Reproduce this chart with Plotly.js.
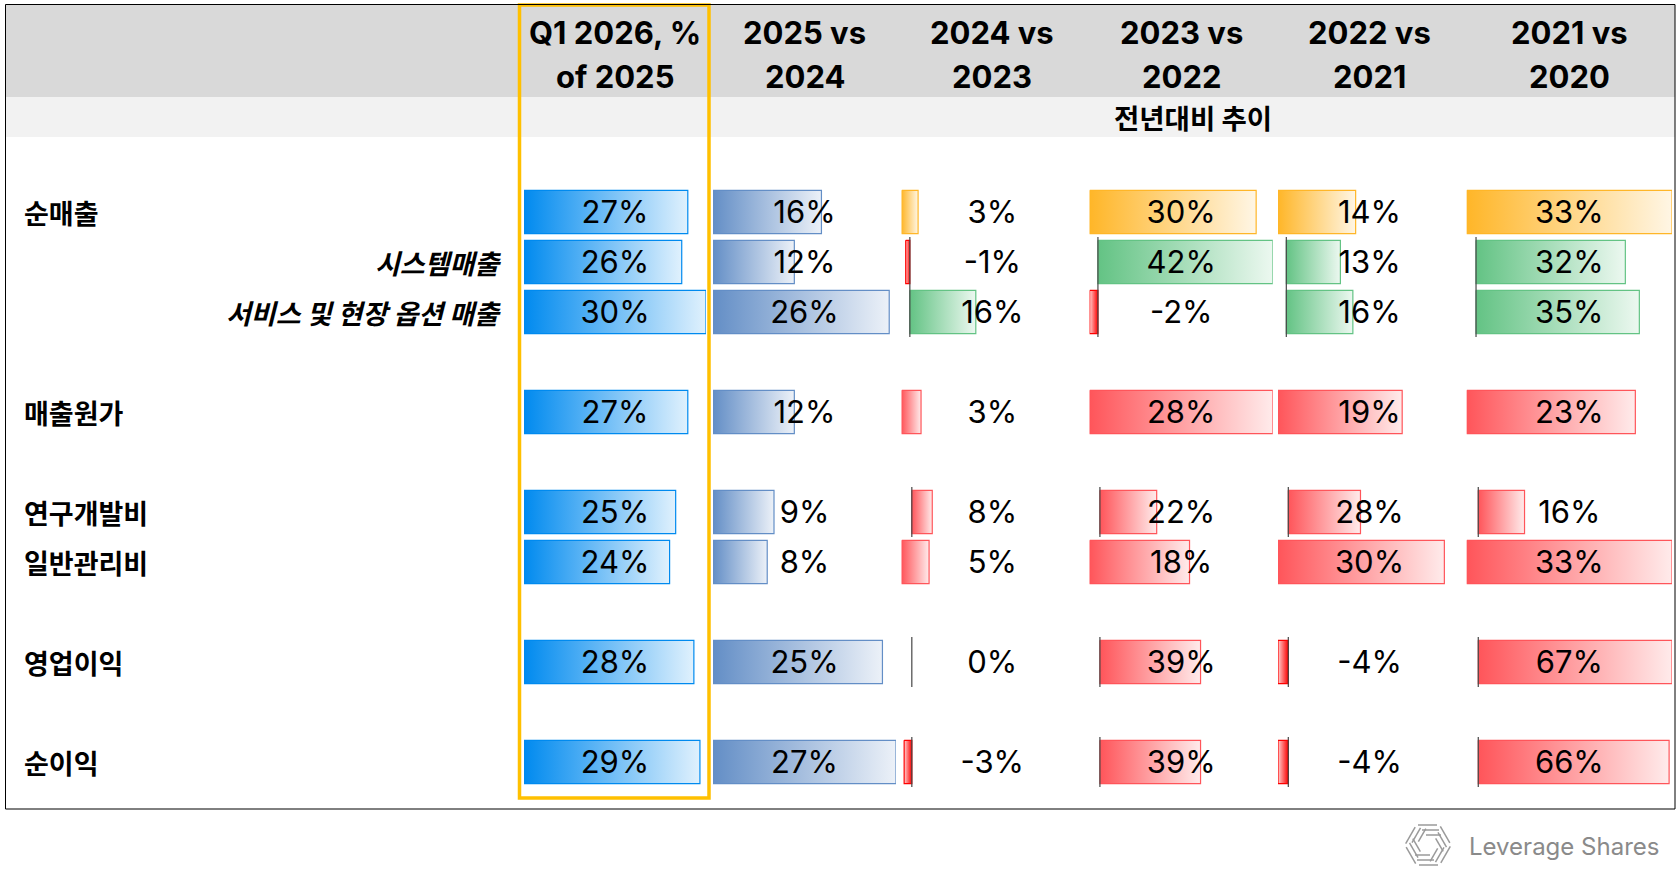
<!DOCTYPE html>
<html>
<head>
<meta charset="utf-8">
<script src="https://cdn.plot.ly/plotly-3.0.1.min.js"></script>
<style>html,body{margin:0;padding:0;background:#fff;}#chart{width:1680px;height:880px;}</style>
</head>
<body>
<div id="chart"></div>
<script>
// ---------------- DATA ----------------
const rowLabels = ['순매출', '시스템매출', '서비스 및 현장 옵션 매출', '매출원가', '연구개발비', '일반관리비', '영업이익', '순이익'];
const rowIsSub = [false, true, true, false, false, false, false, false];
const rowSection = [0, 0, 0, 1, 2, 2, 3, 4];

const headerLine1 = ['Q1 2026, %', '2025 vs', '2024 vs', '2023 vs', '2022 vs', '2021 vs'];
const headerLine2 = ['of 2025', '2024', '2023', '2022', '2021', '2020'];
const subHeader = '전년대비 추이';

const q1Share = [27, 26, 30, 27, 25, 24, 28, 29];
const g2025 = [16, 12, 26, 12, 9, 8, 25, 27];
const g2024 = [3, -1, 16, 3, 8, 5, 0, -3];
const g2023 = [30, 42, -2, 28, 22, 18, 39, 39];
const g2022 = [14, 13, 16, 19, 28, 30, -4, -4];
const g2021 = [33, 32, 35, 23, 16, 33, 67, 66];

// conditional-format ranges for the year-over-year columns (per row)
const rowStyle = ['orange', 'green', 'green', 'red', 'red', 'red', 'red', 'red'];
const rowRange = ['A', 'B', 'B', 'C', 'D', 'E', 'D', 'D'];

// ---------------- LAYOUT CONSTANTS ----------------
const W = 1680, H = 880;
const px = x => x / W;
const py = y => 1 - y / H;
const cells = [[524, 706], [713, 896], [901.6, 1083], [1089.6, 1272.8], [1278, 1461], [1466.7, 1672]];
const rowTop = 212, rowStep = 50, barHalf = 0.434, textNudge = 0.06;
const palette = {q1: '#008AEF', y25: '#638EC6', orange: '#FFB628', green: '#63C384', red: '#FF555A', neg: '#FF0000'};

const columns = [q1Share, g2025, g2024, g2023, g2022, g2021];
const slots = rowLabels.map((_, i) => i + rowSection[i]);

function lighten(hex, t) {
  const n = parseInt(hex.slice(1), 16);
  const r = (n >> 16) & 255, g = (n >> 8) & 255, b = n & 255;
  const m = c => Math.round(c + (255 - c) * t);
  return `rgb(${m(r)},${m(g)},${m(b)})`;
}

// group ranges (like spreadsheet data bars: min(0,lowest) .. max(0,highest))
function rangeOf(vals) {
  return [Math.min(0, ...vals), Math.max(0, ...vals)];
}
const groupRanges = {};
['A', 'B', 'C', 'D', 'E'].forEach(id => {
  const vals = [];
  rowRange.forEach((r, i) => { if (r === id) for (let c = 2; c < 6; c++) vals.push(columns[c][i]); });
  groupRanges[id] = rangeOf(vals);
});
function groupFor(c, i) {
  if (c < 2) return rangeOf(columns[c]);
  return groupRanges[rowRange[i]];
}
function colorFor(c, i) {
  if (c === 0) return palette.q1;
  if (c === 1) return palette.y25;
  return palette[rowStyle[i]];
}

const traces = [];
const shapes = [];

// backgrounds
shapes.push({type: 'rect', xref: 'paper', yref: 'paper', x0: px(5.5), x1: px(1675), y0: py(4.5), y1: py(97), fillcolor: '#D9D9D9', line: {width: 0}, layer: 'below'});
shapes.push({type: 'rect', xref: 'paper', yref: 'paper', x0: px(5.5), x1: px(1675), y0: py(97), y1: py(137), fillcolor: '#F2F2F2', line: {width: 0}, layer: 'below'});

// bars
columns.forEach((vals, c) => {
  const xa = c === 0 ? 'x' : 'x' + (c + 1);
  vals.forEach((v, i) => {
    const [lo, hi] = groupFor(c, i);
    const a = (0 - lo) / (hi - lo);
    const b = (v - lo) / (hi - lo);
    const s = slots[i];
    if (v !== 0) {
      const col = v < 0 ? palette.neg : colorFor(c, i);
      const light = lighten(col, v < 0 ? 0.82 : 0.88);
      const x0 = Math.min(a, b), x1 = Math.max(a, b);
      traces.push({
        type: 'scatter', mode: 'lines', xaxis: xa, yaxis: 'y',
        x: [x0, x1, x1, x0, x0],
        y: [s - barHalf, s - barHalf, s + barHalf, s + barHalf, s - barHalf],
        fill: 'toself',
        fillgradient: {type: 'horizontal', colorscale: v < 0 ? [[0, light], [1, col]] : [[0, col], [1, light]]},
        line: {color: col, width: 1.2},
        hoverinfo: 'skip', showlegend: false
      });
    }
    if (lo < 0) {
      shapes.push({type: 'line', xref: xa, yref: 'y', x0: a, x1: a, y0: s - 0.5, y1: s + 0.5,
        line: {color: 'rgb(70,70,70)', width: 1.2}, layer: 'above'});
    }
  });
});

// value labels
columns.forEach((vals, c) => {
  const xa = c === 0 ? 'x' : 'x' + (c + 1);
  traces.push({
    type: 'scatter', mode: 'text', xaxis: xa, yaxis: 'y',
    x: vals.map(() => 0.5), y: slots.map(s => s + textNudge),
    text: vals.map(v => v + '%'),
    textposition: 'middle center',
    textfont: {family: 'Inter, "Noto Sans", sans-serif', size: 31, color: '#000'},
    hoverinfo: 'skip', showlegend: false, cliponaxis: false
  });
});

const annotations = [];
// headers
headerLine1.forEach((t, c) => {
  const cx = (cells[c][0] + cells[c][1]) / 2;
  annotations.push({xref: 'paper', yref: 'paper', x: px(cx), y: py(32), text: t, showarrow: false,
    xanchor: 'center', yanchor: 'middle', font: {family: 'Inter, sans-serif', size: 31, weight: 700, color: '#000'}});
  annotations.push({xref: 'paper', yref: 'paper', x: px(cx), y: py(76), text: headerLine2[c], showarrow: false,
    xanchor: 'center', yanchor: 'middle', font: {family: 'Inter, sans-serif', size: 31, weight: 700, color: '#000'}});
});
annotations.push({xref: 'paper', yref: 'paper', x: px((cells[1][0] + cells[5][1]) / 2), y: py(117), text: subHeader,
  showarrow: false, xanchor: 'center', yanchor: 'middle',
  font: {family: '"Noto Sans CJK KR", sans-serif', size: 27.5, weight: 700, color: '#000'}});

// row labels
rowLabels.forEach((t, i) => {
  const sub = rowIsSub[i];
  annotations.push({xref: 'paper', yref: 'y', x: sub ? px(503) : px(22), y: slots[i], text: t, showarrow: false,
    xanchor: sub ? 'right' : 'left', yanchor: 'middle',
    font: {family: '"Noto Sans CJK KR", sans-serif', size: 27, weight: 700, style: sub ? 'italic' : 'normal', color: '#000'}});
});

// watermark text
annotations.push({xref: 'paper', yref: 'paper', x: px(1467), y: py(846), text: 'Leverage Shares', showarrow: false,
  xanchor: 'left', yanchor: 'middle', font: {family: 'Inter, sans-serif', size: 24, color: '#8a8a8a'}});

// watermark logo (decorative pinwheel of line groups)
(function () {
  const cx = 1428, cy = 845;
  for (let k = 0; k < 6; k++) {
    const th = k * Math.PI / 3 - Math.PI / 2;
    const dx = Math.cos(th), dy = Math.sin(th);
    const tx = -dy, ty = dx;
    [10, 15, 20].forEach((r, j) => {
      const bx = cx + dx * r, by = cy + dy * r;
      const l0 = -2 - j * 4, l1 = 13 - j * 2;
      shapes.push({type: 'line', xref: 'paper', yref: 'paper',
        x0: px(bx + tx * l0), y0: py(by + ty * l0), x1: px(bx + tx * l1), y1: py(by + ty * l1),
        line: {color: '#9a9a9a', width: 1.5}});
    });
  }
})();

// yellow highlight box and outer border
shapes.push({type: 'rect', xref: 'paper', yref: 'paper', x0: px(519.5), x1: px(709), y0: py(5), y1: py(798),
  line: {color: '#FFC000', width: 3.5}, fillcolor: 'rgba(0,0,0,0)', layer: 'above'});
shapes.push({type: 'rect', xref: 'paper', yref: 'paper', x0: px(5.5), x1: px(1675), y0: py(4.5), y1: py(809),
  line: {color: '#000', width: 1}, fillcolor: 'rgba(0,0,0,0)', layer: 'above'});

const layout = {
  width: W, height: H,
  margin: {l: 0, r: 0, t: 0, b: 0, pad: 0},
  paper_bgcolor: '#fff', plot_bgcolor: 'rgba(0,0,0,0)',
  showlegend: false, hovermode: false,
  yaxis: {range: [(H - rowTop) / rowStep, -rowTop / rowStep], domain: [0, 1], visible: false, fixedrange: true},
  shapes: shapes, annotations: annotations
};
cells.forEach((cl, c) => {
  const key = c === 0 ? 'xaxis' : 'xaxis' + (c + 1);
  layout[key] = {domain: [px(cl[0]), px(cl[1])], range: [0, 1], visible: false, anchor: 'y', fixedrange: true};
});

Plotly.newPlot('chart', traces, layout, {displayModeBar: false, staticPlot: true});
</script>
</body>
</html>
